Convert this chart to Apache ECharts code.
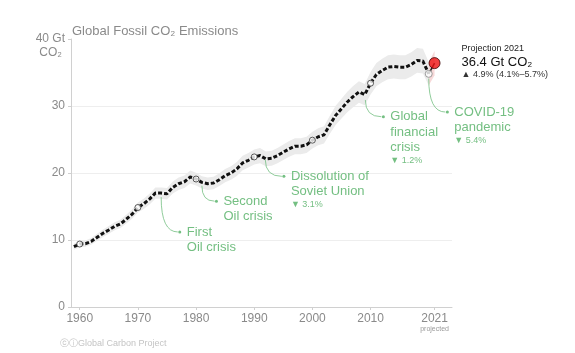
<!DOCTYPE html>
<html lang="en">
<head>
    <meta charset="UTF-8">
    <title>Global Fossil CO2 Emissions</title>
    <script src="https://cdn.jsdelivr.net/npm/echarts@6/dist/echarts.min.js"></script>
    <style>
        html, body { margin: 0; padding: 0; background: #fff; }
        #chart { width: 575px; height: 353px; }
    </style>
</head>
<body>
    <div id="chart"></div>
    <script>
        // years 1959..2020 (Gt CO2)
        var years = [1959, 1960, 1961, 1962, 1963, 1964, 1965, 1966, 1967, 1968, 1969,
            1970, 1971, 1972, 1973, 1974, 1975, 1976, 1977, 1978, 1979,
            1980, 1981, 1982, 1983, 1984, 1985, 1986, 1987, 1988, 1989,
            1990, 1991, 1992, 1993, 1994, 1995, 1996, 1997, 1998, 1999,
            2000, 2001, 2002, 2003, 2004, 2005, 2006, 2007, 2008, 2009,
            2010, 2011, 2012, 2013, 2014, 2015, 2016, 2017, 2018, 2019, 2020];
        var emissions = [9.0, 9.4, 9.45, 9.8, 10.4, 11.0, 11.5, 12.05, 12.4, 13.1, 13.85,
            14.85, 15.4, 16.1, 17.0, 17.0, 16.9, 17.85, 18.4, 18.7, 19.4,
            19.1, 18.6, 18.4, 18.5, 19.0, 19.6, 20.0, 20.6, 21.5, 21.9,
            22.4, 22.6, 22.1, 22.2, 22.6, 23.1, 23.6, 24.0, 24.0, 24.2,
            24.9, 25.4, 25.7, 27.2, 28.6, 29.6, 30.6, 31.4, 32.1, 31.7,
            33.4, 34.7, 35.3, 35.8, 35.9, 35.8, 35.8, 36.2, 36.8, 36.7, 34.8];
        var projYear = 2021;
        var projValue = 36.4;
        var uncertainty = 0.05; // GCP +-5% band

        var xTicks = [1960, 1970, 1980, 1990, 2000, 2010, 2021];
        var dotYears = [1960, 1970, 1980, 1990, 2000, 2010];

        // leader from a point on the curve to the label anchor (both in data units)
        var events = [
            { text: ['First', 'Oil crisis'], from: [1974, 16.4], to: [1977.2, 11.2], note: '' },
            { text: ['Second', 'Oil crisis'], from: [1981, 18.1], to: [1983.5, 15.8], note: '' },
            { text: ['Dissolution of', 'Soviet Union'], from: [1991.9, 22.0], to: [1995.1, 19.5], note: '3.1%' },
            { text: ['Global', 'financial', 'crisis'], from: [2009.1, 30.9], to: [2012.2, 28.4], note: '1.2%' },
            { text: ['COVID-19', 'pandemic'], from: [2020, 34.1], to: [2023.2, 29.1], note: '5.4%' }
        ];

        var green = '#74bf82';
        var font = '"Liberation Sans", Arial, Helvetica, sans-serif';

        var line = years.map(function (y, i) { return [y, emissions[i]]; });
        var last = emissions[emissions.length - 1];
        var projLine = [[2020, last], [projYear, projValue]];
        var dots = line.filter(function (p) { return dotYears.indexOf(p[0]) >= 0; });

        // uncertainty band drawn as one polygon through the axes
        function band(points, fill) {
            return {
                type: 'custom', silent: true, z: 1,
                data: points,
                encode: { x: 0, y: 1 },
                renderItem: function (params, api) {
                    if (params.dataIndex !== 0) return;
                    var up = points.map(function (p) { return api.coord([p[0], p[1] * (1 + uncertainty)]); });
                    var lo = points.map(function (p) { return api.coord([p[0], p[1] * (1 - uncertainty)]); }).reverse();
                    return { type: 'polygon', shape: { points: up.concat(lo) }, style: { fill: fill } };
                }
            };
        }

        var chart = echarts.init(document.getElementById('chart'));
        var option = {
            animation: false,
            textStyle: { fontFamily: font },
            grid: { left: 71, right: 123, top: 39, bottom: 46 },
            xAxis: {
                type: 'value', min: 1958.5, max: 2024,
                axisLine: { lineStyle: { color: '#d0d0d0' } },
                axisTick: { customValues: xTicks, length: 3, lineStyle: { color: '#d0d0d0' } },
                axisLabel: {
                    customValues: xTicks, color: '#8a8a8a', fontSize: 12, margin: 6,
                    formatter: function (v) {
                        return v === 2021 ? '2021\n{p|projected}' : String(v);
                    },
                    rich: { p: { fontSize: 7, color: '#9a9a9a', lineHeight: 8 } }
                },
                splitLine: { show: false }
            },
            yAxis: {
                type: 'value', min: 0, max: 40, interval: 10,
                axisLine: { show: true, lineStyle: { color: '#d0d0d0' } },
                axisTick: { show: true, length: 3, lineStyle: { color: '#d0d0d0' } },
                axisLabel: {
                    color: '#8a8a8a', fontSize: 12, margin: 6,
                    formatter: function (v) { return v === 40 ? '40 Gt' : String(v); }
                },
                splitLine: { lineStyle: { color: ['transparent', '#eeeeee', '#eeeeee', '#eeeeee', 'transparent'] } }
            },
            series: [
                band(line, '#ebebeb'),
                band(projLine, '#f7d9d9'),
                { type: 'line', data: line, symbol: 'none', z: 2, lineStyle: { color: '#f4f4f4', width: 3 } },
                { type: 'line', data: line, symbol: 'none', z: 3, lineStyle: { color: '#111', width: 3, type: [4, 2] } },
                { type: 'line', data: projLine, symbol: 'none', z: 3, lineStyle: { color: '#222', width: 1.5 } },
                { type: 'scatter', data: dots, symbolSize: 6, z: 5,
                    itemStyle: { color: '#fff', borderColor: '#333', borderWidth: 1 } },
                { type: 'scatter', data: [[2020, last]], symbolSize: 7, z: 5,
                    itemStyle: { color: '#fff', borderColor: '#888', borderWidth: 1 } },
                { type: 'scatter', data: [[projYear, projValue]], symbolSize: 11, z: 6,
                    itemStyle: { color: '#ee1111', borderColor: '#3a0000', borderWidth: 1 } }
            ]
        };
        chart.setOption(option);

        // annotations placed through the axes
        var px = function (p) { return chart.convertToPixel({ gridIndex: 0 }, p); };
        var g = [];
        function txt(x, y, s, size, color, extra) {
            var style = { text: s, fill: color, font: size + 'px ' + font, verticalAlign: 'middle' };
            for (var k in extra || {}) style[k] = extra[k];
            g.push({ type: 'text', x: x, y: y, z: 10, style: style });
        }
        txt(72, 31, 'Global Fossil CO₂ Emissions', 13, '#8a8a8a');
        var top40 = px([1958.5, 40]);
        txt(top40[0] - 9, top40[1] + 14, 'CO₂', 12, '#8a8a8a', { align: 'right' });
        txt(60, 344, 'ⓒⓘGlobal Carbon Project', 9, '#c4c4c4');

        events.forEach(function (e) {
            var a = px(e.from), b = px(e.to);
            g.push({ type: 'bezierCurve', z: 10, shape: { x1: a[0], y1: a[1], x2: b[0] - 2, y2: b[1], cpx1: a[0], cpy1: b[1] },
                style: { stroke: green, lineWidth: 0.8, fill: null } });
            g.push({ type: 'circle', z: 10, shape: { cx: b[0], cy: b[1], r: 1.5 }, style: { fill: green } });
            e.text.forEach(function (t, i) {
                txt(b[0] + 7, b[1] + i * 15.5, t, 13, green);
            });
            if (e.note) {
                txt(b[0] + 7, b[1] + e.text.length * 15.5 - 3, '▼ ' + e.note, 9, green);
            }
        });

        var pr = px([projYear, projValue]);
        txt(pr[0] + 27, 49, 'Projection 2021', 9, '#222');
        txt(pr[0] + 27, 62, '36.4 Gt CO₂', 13, '#111');
        txt(pr[0] + 27, 75, '▲ 4.9% (4.1%–5.7%)', 9, '#333');

        chart.setOption({ graphic: g });
    </script>
</body>
</html>
